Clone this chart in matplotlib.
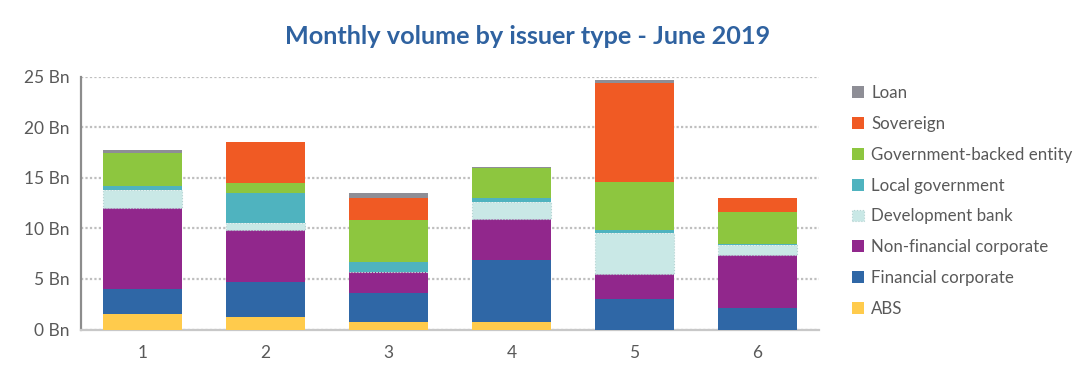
import matplotlib
matplotlib.use("Agg")
import matplotlib.pyplot as plt
import numpy as np

categories = ["1", "2", "3", "4", "5", "6"]
series_names = ["ABS", "Financial corporate", "Non-financial corporate", "Development bank",
                "Local government", "Government-backed entity", "Sovereign", "Loan"]
abs_vals = [1.5, 1.2, 0.7, 0.7, 0.0, 0.0]
financial = [2.5, 3.5, 2.9, 6.15, 3.0, 2.15]
nonfinancial = [8.0, 5.1, 2.1, 4.05, 2.5, 5.2]
devbank = [1.8, 0.75, 0.0, 1.7, 4.05, 1.0]
localgov = [0.4, 3.0, 1.0, 0.45, 0.33, 0.13]
govbacked = [3.25, 0.9, 4.15, 2.95, 4.7, 3.15]
sovereign = [0.0, 4.05, 2.2, 0.0, 9.8, 1.4]
loan = [0.3, 0.0, 0.45, 0.07, 0.3, 0.0]
yticks = [0, 5, 10, 15, 20, 25]
ytick_labels = ["0 Bn", "5 Bn", "10 Bn", "15 Bn", "20 Bn", "25 Bn"]

colors = ["#FFCB4C", "#2F67A6", "#91278C", "#C9E8E6", "#4FB3BF", "#8DC63F", "#F05A24", "#8E8E96"]
data = [abs_vals, financial, nonfinancial, devbank, localgov, govbacked, sovereign, loan]

plt.rcParams['font.family'] = ['Lato', 'DejaVu Sans']
fig = plt.figure(figsize=(10.92, 3.82), dpi=100)
ax = fig.add_axes([0.0742, 0.1374, 0.6758, 0.6616])

x = np.arange(1, len(categories) + 1)
bottom = np.zeros(len(categories))
handles = []
for name, vals, c in zip(series_names, data, colors):
    vals = np.array(vals)
    if name == "Development bank":
        b = ax.bar(x, vals, 0.64, bottom=bottom, color=c, edgecolor="#B5D3D2",
                   linewidth=0.8, linestyle=":", label=name, zorder=3)
    else:
        b = ax.bar(x, vals, 0.64, bottom=bottom, color=c, linewidth=0, label=name, zorder=3)
    handles.append(b)
    bottom += vals

ax.set_xlim(0.5, 6.5)
ax.set_ylim(0, 25)
ax.set_xticks(x)
ax.set_xticklabels(categories)
ax.set_yticks(yticks)
ax.set_yticklabels(ytick_labels)
ax.tick_params(axis='both', length=0, labelsize=12.5, colors="#595959")
ax.tick_params(axis='x', pad=11)
ax.tick_params(axis='y', pad=8)
ax.grid(axis='y', color="#BFBFBF", linestyle=(0, (1, 1)), linewidth=1.6, zorder=0)
ax.set_axisbelow(True)
for s in ["top", "right"]:
    ax.spines[s].set_visible(False)
ax.spines["left"].set_color("#8C8C8C")
ax.spines["left"].set_linewidth(1.6)
ax.spines["bottom"].set_color("#C8C8C8")
ax.spines["bottom"].set_linewidth(1.6)

fig.text(0.4835, 0.905, "Monthly volume by issuer type - June 2019", ha="center", va="center",
         fontsize=18.2, fontweight="bold", color="#2F62A0")

leg = fig.legend(handles[::-1], series_names[::-1], loc="upper left",
                 bbox_to_anchor=(0.766, 0.818), frameon=False, fontsize=12.2,
                 labelcolor="#595959", handlelength=0.7, handleheight=0.7,
                 handletextpad=0.45, labelspacing=0.88)

fig.savefig("out.png", dpi=100)
